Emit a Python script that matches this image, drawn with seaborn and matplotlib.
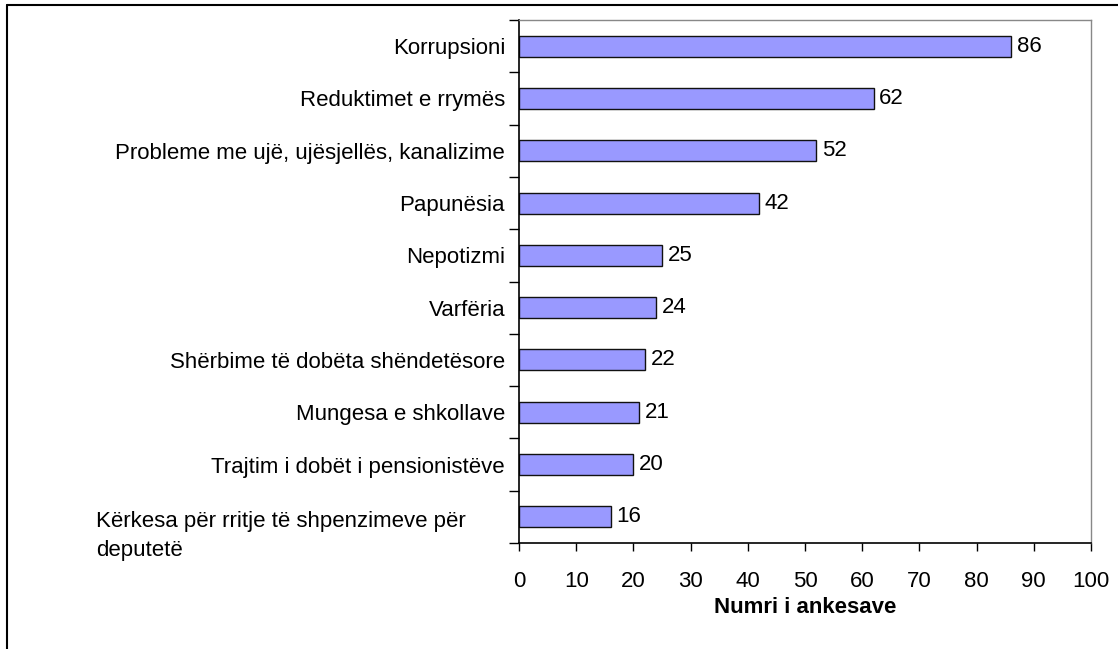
#%% libraries
import numpy as np
import pandas as pd
import matplotlib
matplotlib.use("Agg")
import matplotlib.pyplot as plt
from matplotlib.lines import Line2D
from matplotlib.transforms import ScaledTranslation
import seaborn as sns

#%% data
issues = [
    "Korrupsioni",
    "Reduktimet e rrymës",
    "Probleme me ujë, ujësjellës, kanalizime",
    "Papunësia",
    "Nepotizmi",
    "Varfëria",
    "Shërbime të dobëta shëndetësore",
    "Mungesa e shkollave",
    "Trajtim i dobët i pensionistëve",
    "Kërkesa për rritje të shpenzimeve për\ndeputetë",
]
complaints = [86, 62, 52, 42, 25, 24, 22, 21, 20, 16]
xTicks = [0, 10, 20, 30, 40, 50, 60, 70, 80, 90, 100]

complaintsDf = pd.DataFrame({"Issue": issues, "Count": complaints})

#%% plot
sns.set_style("white")
plt.rcParams["font.family"] = ["Liberation Sans", "DejaVu Sans"]
plt.rcParams["text.color"] = "black"
plt.rcParams["xtick.color"] = "black"
plt.rcParams["ytick.color"] = "black"
plt.rcParams["axes.labelcolor"] = "black"

fontSize = 16

fig = plt.figure(figsize=(11.18, 6.49), dpi=100)
ax = fig.add_axes([519 / 1118, 1 - 543 / 649, 572 / 1118, 523 / 649])

sns.barplot(data=complaintsDf, x="Count", y="Issue", order=issues, orient="h",
            color="#9999FF", saturation=1, width=0.4,
            edgecolor="#111111", linewidth=1.0, ax=ax)

# value labels at the end of each bar
for i, value in enumerate(complaints):
    ax.text(value + 1.0, i, str(value), va="center", ha="left", fontsize=fontSize)

ax.set_xlim(0, 100)
ax.set_ylim(len(issues) - 0.5, -0.5)
ax.set_xticks(xTicks)
ax.set_xticklabels([str(t) for t in xTicks], fontsize=fontSize)

# category labels centered, tick marks between categories
ax.set_yticks(range(len(issues)))
ax.set_yticklabels(issues, fontsize=fontSize, multialignment="left", linespacing=1.45)
ax.set_yticks(np.arange(-0.5, len(issues), 1.0), minor=True)
ax.tick_params(axis="y", which="major", length=0, pad=10)
ax.tick_params(axis="y", which="minor", length=7, width=1, color="black", direction="out", left=True)
ax.tick_params(axis="x", which="major", length=6, width=1, color="black", direction="out", pad=14, bottom=True)

# the wrapped last label is left aligned like in the original
lastLabel = ax.get_yticklabels()[-1]
lastLabel.set_horizontalalignment("left")
lastLabel.set_x(-(519 - 96 - 14) / 572)
lastLabel.set_transform(lastLabel.get_transform() + ScaledTranslation(0, -0.13, fig.dpi_scale_trans))

ax.set_xlabel("Numri i ankesave", fontsize=fontSize, fontweight="bold", labelpad=3.5)
ax.set_ylabel("")

for side in ["left", "bottom"]:
    ax.spines[side].set_color("black")
    ax.spines[side].set_linewidth(1.2)
for side in ["top", "right"]:
    ax.spines[side].set_visible(True)
    ax.spines[side].set_color("#888888")
    ax.spines[side].set_linewidth(1.0)

# chart outer border (left and top visible)
fig.add_artist(Line2D([7 / 1118, 7 / 1118], [0, 1 - 5 / 649], color="black", linewidth=1.5))
fig.add_artist(Line2D([7 / 1118, 1], [1 - 5 / 649, 1 - 5 / 649], color="black", linewidth=1.5))

fig.savefig("out.png", dpi=100, facecolor="white")
